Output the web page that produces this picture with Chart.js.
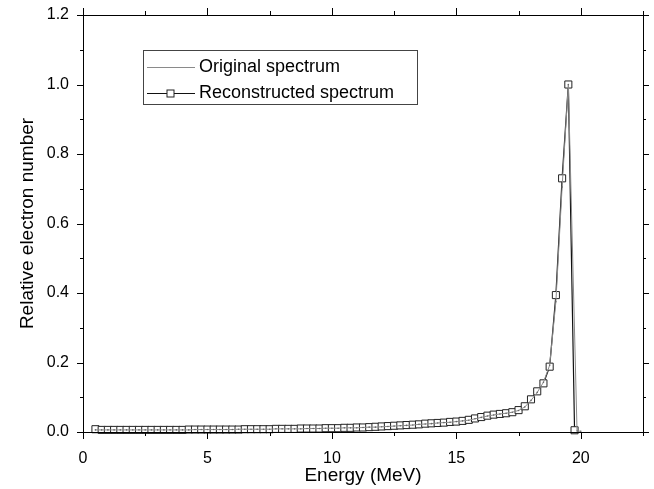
<!DOCTYPE html>
<html>
<head>
<meta charset="utf-8">
<script src="https://cdn.jsdelivr.net/npm/chart.js@4"></script>
<style>
  body { margin: 0; background: #fff; }
  #wrap { width: 654px; height: 489px; position: relative; }
</style>
</head>
<body>
<div id="wrap"><canvas id="grafico"></canvas></div>
<script>
// energias (MeV) dos pontos
const energia = [
  0.5, 0.75, 1.0, 1.25, 1.5, 1.75, 2.0, 2.25, 2.5, 2.75,
  3.0, 3.25, 3.5, 3.75, 4.0, 4.25, 4.5, 4.75, 5.0, 5.25,
  5.5, 5.75, 6.0, 6.25, 6.5, 6.75, 7.0, 7.25, 7.5, 7.75,
  8.0, 8.25, 8.5, 8.75, 9.0, 9.25, 9.5, 9.75, 10.0, 10.25,
  10.5, 10.75, 11.0, 11.25, 11.5, 11.75, 12.0, 12.25, 12.5, 12.75,
  13.0, 13.25, 13.5, 13.75, 14.0, 14.25, 14.5, 14.75, 15.0, 15.25,
  15.5, 15.75, 16.0, 16.25, 16.5, 16.75, 17.0, 17.25, 17.5, 17.75,
  18.0, 18.25, 18.5, 18.75, 19.0, 19.25, 19.5, 19.75
];
const reconstruido = [
  0.008, 0.006, 0.006, 0.006, 0.006, 0.006, 0.006, 0.006, 0.006, 0.006,
  0.006, 0.006, 0.006, 0.006, 0.006, 0.007, 0.007, 0.007, 0.007, 0.007,
  0.007, 0.007, 0.007, 0.007, 0.008, 0.008, 0.008, 0.008, 0.008, 0.009,
  0.009, 0.009, 0.009, 0.010, 0.010, 0.010, 0.010, 0.011, 0.011, 0.011,
  0.012, 0.012, 0.013, 0.013, 0.014, 0.015, 0.016, 0.017, 0.018, 0.019,
  0.020, 0.021, 0.022, 0.024, 0.025, 0.026, 0.027, 0.029, 0.030, 0.032,
  0.035, 0.039, 0.043, 0.047, 0.050, 0.052, 0.054, 0.057, 0.063, 0.074,
  0.094, 0.117, 0.140, 0.188, 0.394, 0.730, 1.000, 0.005
];
// espectro original (linha fina cinza)
const energiaOriginal = [
  0.5, 0.75, 1.0, 1.25, 1.5, 1.75, 2.0, 2.25, 2.5, 2.75,
  3.0, 3.25, 3.5, 3.75, 4.0, 4.25, 4.5, 4.75, 5.0, 5.25,
  5.5, 5.75, 6.0, 6.25, 6.5, 6.75, 7.0, 7.25, 7.5, 7.75,
  8.0, 8.25, 8.5, 8.75, 9.0, 9.25, 9.5, 9.75, 10.0, 10.25,
  10.5, 10.75, 11.0, 11.25, 11.5, 11.75, 12.0, 12.25, 12.5, 12.75,
  13.0, 13.25, 13.5, 13.75, 14.0, 14.25, 14.5, 14.75, 15.0, 15.25,
  15.5, 15.75, 16.0, 16.25, 16.5, 16.75, 17.0, 17.25, 17.5, 17.75,
  18.0, 18.25, 18.5, 18.75, 19.0, 19.25, 19.5, 19.85, 20.0
];
const original = [
  0.006, 0.006, 0.006, 0.006, 0.006, 0.006, 0.006, 0.006, 0.006, 0.006,
  0.006, 0.006, 0.006, 0.006, 0.006, 0.006, 0.007, 0.007, 0.007, 0.007,
  0.007, 0.007, 0.007, 0.008, 0.008, 0.008, 0.008, 0.008, 0.008, 0.009,
  0.009, 0.009, 0.009, 0.009, 0.010, 0.010, 0.010, 0.011, 0.011, 0.011,
  0.012, 0.012, 0.012, 0.013, 0.014, 0.014, 0.015, 0.016, 0.017, 0.018,
  0.019, 0.020, 0.022, 0.023, 0.024, 0.026, 0.027, 0.028, 0.030, 0.032,
  0.034, 0.038, 0.042, 0.046, 0.049, 0.052, 0.054, 0.057, 0.062, 0.072,
  0.091, 0.114, 0.143, 0.192, 0.375, 0.705, 1.000, 0.003, 0.002
];
// rótulos dos eixos
const ticksX = [0, 5, 10, 15, 20];
const ticksY = ['0.0', '0.2', '0.4', '0.6', '0.8', '1.0', '1.2'];

const fonte = "'Liberation Sans', Arial, sans-serif";
const pares = (xs, ys) => xs.map((x, i) => ({ x: x, y: ys[i] }));
const ehMaiorX = v => ticksX.some(t => Math.abs(t - v) < 1e-6);
const ehMaiorY = v => ticksY.some(t => Math.abs(parseFloat(t) - v) < 1e-6);

// moldura com marcas nos quatro lados
const moldura = {
  id: 'moldura',
  afterDatasetsDraw(chart) {
    const { ctx, chartArea: a, scales: { x, y } } = chart;
    ctx.save();
    ctx.strokeStyle = '#000';
    ctx.lineWidth = 1;
    ctx.strokeRect(Math.round(a.left) + 0.5, Math.round(a.top) + 0.5,
      Math.round(a.right - a.left), Math.round(a.bottom - a.top));
    ctx.beginPath();
    x.ticks.forEach(t => {
      const px = Math.round(x.getPixelForValue(t.value)) + 0.5;
      const len = ehMaiorX(t.value) ? 7 : 4;
      ctx.moveTo(px, a.bottom); ctx.lineTo(px, a.bottom + len);
      ctx.moveTo(px, a.top); ctx.lineTo(px, a.top - len);
    });
    y.ticks.forEach(t => {
      const py = Math.round(y.getPixelForValue(t.value)) + 0.5;
      const len = ehMaiorY(t.value) ? 6 : 3;
      ctx.moveTo(a.left, py); ctx.lineTo(a.left - len, py);
      ctx.moveTo(a.right, py); ctx.lineTo(a.right + len, py);
    });
    ctx.stroke();
    ctx.restore();
  }
};

// legenda com caixa, no estilo do gráfico original
const legendaCaixa = {
  id: 'legendaCaixa',
  afterDraw(chart) {
    const { ctx, chartArea: a } = chart;
    const bx = a.left + 60, by = a.top + 35, bw = 274, bh = 54;
    ctx.save();
    ctx.fillStyle = '#fff';
    ctx.fillRect(bx, by, bw, bh);
    ctx.strokeStyle = '#444';
    ctx.lineWidth = 1;
    ctx.strokeRect(bx + 0.5, by + 0.5, bw, bh);
    ctx.font = '18px ' + fonte;
    ctx.textBaseline = 'middle';
    ctx.fillStyle = '#000';
    chart.data.datasets.forEach((ds, i) => {
      const cy = Math.round(by + 17 + i * 26) + 0.5;
      ctx.strokeStyle = ds.borderColor;
      ctx.lineWidth = ds.borderWidth;
      ctx.beginPath();
      ctx.moveTo(bx + 4, cy); ctx.lineTo(bx + 52, cy);
      ctx.stroke();
      if (ds.pointStyle === 'rect') {
        ctx.fillStyle = '#fff';
        ctx.fillRect(bx + 24, cy - 3.5, 7, 7);
        ctx.strokeStyle = ds.pointBorderColor;
        ctx.lineWidth = 1;
        ctx.strokeRect(bx + 24, cy - 3.5, 7, 7);
      }
      ctx.fillStyle = '#000';
      ctx.fillText(ds.label, bx + 56, cy);
    });
    ctx.restore();
  }
};

document.addEventListener('DOMContentLoaded', () => {
  const ctx = document.getElementById('grafico').getContext('2d');
  new Chart(ctx, {
    type: 'line',
    data: {
      datasets: [{
        label: 'Original spectrum',
        data: pares(energiaOriginal, original),
        borderColor: '#8a8a8a',
        borderWidth: 1,
        pointRadius: 0.8,
        pointBackgroundColor: '#666',
        pointBorderColor: '#666',
        pointBorderWidth: 0,
        tension: 0
      }, {
        label: 'Reconstructed spectrum',
        data: pares(energia, reconstruido),
        borderColor: '#111',
        borderWidth: 1.2,
        pointStyle: 'rect',
        pointRadius: 5,
        pointBackgroundColor: '#fff',
        pointBorderColor: '#222',
        pointBorderWidth: 1,
        tension: 0
      }]
    },
    options: {
      responsive: true,
      maintainAspectRatio: false,
      animation: false,
      clip: false,
      layout: { padding: { top: 15, right: 11, left: 0, bottom: 0 } },
      plugins: {
        legend: { display: false },
        tooltip: { enabled: false }
      },
      scales: {
        x: {
          type: 'linear',
          min: 0,
          max: 22.5,
          grid: { display: false, drawTicks: false },
          border: { display: false },
          ticks: {
            stepSize: 2.5,
            padding: 17,
            color: '#000',
            font: { family: fonte, size: 16 },
            maxRotation: 0,
            autoSkip: false,
            callback: v => ehMaiorX(v) ? String(Math.round(v)) : ''
          },
          title: {
            display: true,
            text: 'Energy (MeV)',
            color: '#000',
            font: { family: fonte, size: 19 },
            padding: { top: 0, bottom: 2 }
          },
          afterFit: s => { s.height = 57; s.paddingLeft = 0; s.paddingRight = 0; }
        },
        y: {
          min: 0,
          max: 1.2,
          grid: { display: false, drawTicks: false },
          border: { display: false },
          ticks: {
            stepSize: 0.1,
            padding: 14,
            color: '#000',
            font: { family: fonte, size: 16 },
            autoSkip: false,
            callback: v => ehMaiorY(v) ? v.toFixed(1) : ''
          },
          title: {
            display: true,
            text: 'Relative electron number',
            color: '#000',
            font: { family: fonte, size: 19 },
            padding: { top: 16, bottom: 0 }
          },
          afterFit: s => { s.width = 83; s.paddingTop = 0; s.paddingBottom = 0; }
        }
      }
    },
    plugins: [moldura, legendaCaixa]
  });
});
</script>
</body>
</html>
